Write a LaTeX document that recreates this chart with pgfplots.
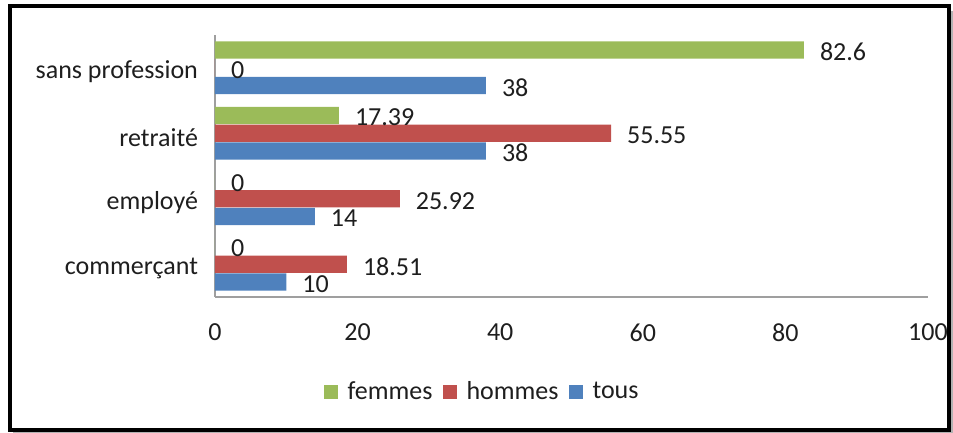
\documentclass[border=0pt]{standalone}
\usepackage{pgfplots}
\pgfplotsset{compat=1.18}
\usepackage{fontspec}
\setmainfont{Carlito}
\definecolor{gmid}{RGB}{155,187,89}
\definecolor{rmid}{RGB}{192,80,77}
\definecolor{bmid}{RGB}{79,129,189}
\definecolor{txt}{RGB}{30,30,30}
\newcommand\cf{\fontsize{13}{15.5}\selectfont}
\begin{document}
\begin{tikzpicture}
\useasboundingbox (-107.5pt,-68pt) rectangle (369pt,148.5pt);
\draw[line width=3pt, gray!60] (-101pt,-68pt) -- (368.5pt,-68pt) -- (368.5pt,143pt);
\draw[line width=2pt, black] (-102.5pt,-66.5pt) rectangle (367pt,145.5pt);
\begin{axis}[
  at={(0pt,0pt)}, anchor=south west,
  scale only axis, width=356.5pt, height=131pt,
  xbar, bar width=0.265,
  xmin=0, xmax=100, ymin=-0.5, ymax=3.5,
  xtick={0,20,40,60,80,100},
  ytick={0,1,2,3},
  yticklabels={commerçant, employé, retraité, sans profession},
  axis x line*=bottom, axis y line*=left,
  axis line style={-, draw=gray!75, line width=0.8pt},
  major tick length=0pt,
  tick label style={font=\cf, text=txt},
  /pgf/number format/assume math mode=true,
  xticklabel style={yshift=-10pt},
  yticklabel style={xshift=-5pt, yshift=-2pt},
  clip=false,
  point meta=explicit symbolic,
  nodes near coords,
  every node near coord/.append style={anchor=west, xshift=4.5pt, yshift=-1pt, font=\cf, text=txt},
  legend columns=-1,
  legend style={draw=none, fill=none, at={(0.376,-0.363)}, anchor=center, font=\cf, text=txt,
    /tikz/every odd column/.append style={column sep=3pt},
    /tikz/every even column/.append style={column sep=3pt}},
  legend image code/.code={\fill[#1] (0pt,-3.5pt) rectangle (7pt,3.5pt);},
]
\addplot[bar shift=0.27, draw=none, fill=gmid]
  coordinates {(0,0)[0] (0,1)[0] (17.39,2)[17.39] (82.6,3)[82.6]};
\addplot[bar shift=0, draw=none, fill=rmid]
  coordinates {(18.51,0)[18.51] (25.92,1)[25.92] (55.55,2)[55.55] (0,3)[0]};
\addplot[bar shift=-0.27, draw=none, fill=bmid]
  coordinates {(10,0)[10] (14,1)[14] (38,2)[38] (38,3)[38]};
\legend{femmes, hommes, tous}
\end{axis}
\end{tikzpicture}
\end{document}
